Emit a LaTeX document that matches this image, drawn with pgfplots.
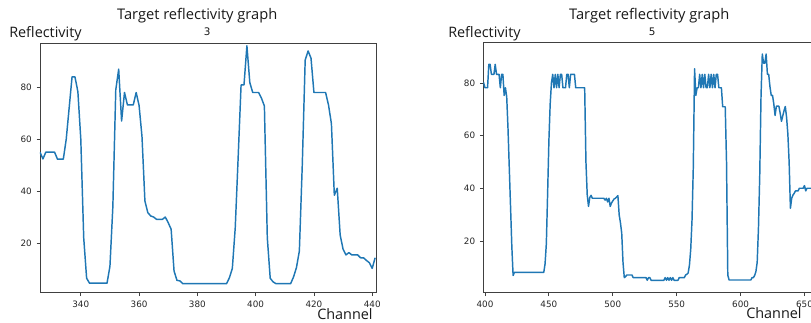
\documentclass[border=0pt]{standalone}
\usepackage{fontspec}
\usepackage{pgfplots}
\pgfplotsset{compat=1.18}
\setmainfont{Open Sans}
\newfontfamily\dejavu{DejaVu Sans}
\definecolor{mplblue}{HTML}{1F77B4}
\pgfplotsset{
  myax/.style={
    scale only axis,
    axis line style={black!75, line width=0.6pt},
    every tick/.style={black!75, line width=0.6pt},
    major tick length=2.6pt,
    tick align=outside,
    tick pos=left,
    tick label style={font=\fontsize{6.6}{7}\selectfont\dejavu, text=black!85},
    /pgf/number format/assume math mode=true,
    ytick={20,40,60,80},
  },
  myline/.style={color=mplblue, line width=1.1pt, no markers, line join=round},
}
\begin{document}
\begin{tikzpicture}
% left chart
\begin{axis}[myax,
  at={(30pt,22pt)}, anchor=south west,
  width=252pt, height=187.3pt,
  xmin=326, xmax=441.3, ymin=0.85, ymax=97.1,
  xtick={340,360,380,400,420,440},
]
\addplot[myline] coordinates {
(326,55)(327,52.4)(328,55)(329,55)(330,55)(331,55)(332,52.3)(333,52.3)(334,52.3)(335,60)(336,72)(337,84)(338,84)(339,78.3)(340,60)(341,22)(342,6.4)(343,4.5)(349,4.5)(350,11)(351,34)(352,79)(353,87)(354,67)(355,78)(356,73.2)(357,73.2)(358,73.2)(359,78)(360,73)(361,61)(362,36.2)(363,31.7)(364,30.4)(365,30)(366,29.1)(367,29.1)(368,29.1)(369,30)(370,27.8)(371,25.3)(372,9.2)(373,5.6)(374,5.4)(375,4.3)(390,4.3)(391,6.6)(392,10.2)(393,25.9)(394,53)(395,80.9)(396,80.9)(397,96)(398,81.8)(399,78)(400,78)(401,78)(402,75.8)(403,72.8)(404,22)(405,6.4)(406,5)(407,4.3)(412,4.3)(413,6.9)(414,10.5)(415,16.9)(416,50)(417,90.5)(418,94)(419,91.2)(420,78)(421,78)(422,78)(423,78)(424,78)(425,73.2)(426,66)(427,38.4)(428,41.1)(429,23.1)(430,17.6)(431,15.4)(432,16.3)(433,15.4)(434,15.4)(435,15.4)(436,14.3)(437,14.3)(438,13.3)(439,12.4)(440,10.2)(441,14.3)
};
\end{axis}
% right chart
\begin{axis}[myax,
  at={(362.5pt,22pt)}, anchor=south west,
  width=246.6pt, height=187.5pt,
  xmin=398.7, xmax=656, ymin=0.5, ymax=95.3,
  xtick={400,450,500,550,600,650},
]
\addplot[myline] coordinates {
(398.7,80.4)(400,78.2)(402,78.2)(403,87.1)(404,87.1)(405,83.3)(407,83.3)(408,87.1)(409,83.3)(411,83.3)(412,78.2)(413,83.3)(414,83.3)(415,75.3)(416,78.2)(417,74.7)(418,62.8)(419,47.9)(420,33)(421,18)(422,7)(423,8.2)(446,8.2)(447,11.4)(448,19)(449,38)(450,58)(451,72)(452,80)(453,83.3)(454,78.2)(455,83.3)(456,78.2)(457,83.3)(458,78.2)(459,83.3)(460,83.3)(461,78.2)(463,78.2)(464,83.3)(465,83.3)(466,78.2)(467,83.3)(470,83.3)(471,78.2)(478,78.2)(479,50)(480,37.6)(481,33.2)(482,36.6)(483,37.4)(484,36.3)(493,36.3)(494,35.6)(495,36.3)(496,34.9)(497,36.3)(498,33.2)(499,34.5)(500,35.3)(501,36)(502,36.3)(503,36.8)(504,37.3)(505,30)(506,27)(507,23)(508,12)(509,6.2)(510,6.6)(511,7.2)(515,7.2)(516,6.2)(526,6.2)(527,5.2)(528,6.2)(529,6.2)(530,5.2)(540,5.2)(541,6.2)(542,5.2)(543,6.2)(544,5.2)(545,6.2)(546,5.2)(547,6.2)(548,5.2)(551,5.2)(552,6.2)(556,6.2)(557,7.2)(558,7.5)(559,8)(560,11)(561,17)(562,28)(563,48)(564,85.4)(565,75.3)(566,78.2)(567,78.2)(568,83.3)(569,78.2)(570,83.3)(571,78.2)(572,83.3)(573,78.2)(574,78.2)(575,83.3)(576,78.2)(577,83.3)(578,78.2)(579,83.3)(580,78.2)(581,83.3)(582,83.3)(583,78.2)(585,78.2)(586,71)(588,71)(589,50)(590,7.2)(591,5.3)(608,5.3)(609,6.2)(610,6.2)(611,7)(612,8.5)(613,12)(614,25)(615,45)(616,75)(617,91)(618,87.5)(619,87.5)(620,91)(621,83.3)(622,83.3)(623,78.6)(624,75.3)(625,75.3)(626,72.1)(627,67.7)(628,71.2)(630,71.2)(631,68.5)(632,65.5)(633,67.5)(634,69.5)(635,71.1)(636,67)(637,60.7)(638,50)(639,32.5)(640,36.3)(641,37.5)(642,38.2)(643,39.1)(645,39.1)(646,40.1)(649,40.1)(650,41.1)(651,39.1)(652,40.1)(656,40.1)
};
\end{axis}
% titles and labels
\begin{scope}[every node/.style={inner sep=0pt, text=black!90}]
\node[anchor=base] at (147.9pt,226.5pt) {\fontsize{11}{13}\selectfont Target reflectivity graph};
\node[anchor=base] at (486.9pt,226.5pt) {\fontsize{11}{13}\selectfont Target reflectivity graph};
\node[anchor=base] at (155.3pt,214.5pt) {\fontsize{7.8}{9}\selectfont\dejavu 3};
\node[anchor=base] at (489.2pt,214.5pt) {\fontsize{7.8}{9}\selectfont\dejavu 5};
\node[anchor=base west] at (6.75pt,213.4pt) {\fontsize{10.8}{12}\selectfont Reflectivity};
\node[anchor=base west] at (336pt,213.4pt) {\fontsize{10.8}{12}\selectfont Reflectivity};
\node[anchor=base west] at (237.75pt,2pt) {\fontsize{10.8}{12}\selectfont Channel};
\node[anchor=base west] at (559.5pt,2.4pt) {\fontsize{10.8}{12}\selectfont Channel};
\end{scope}
\pgfresetboundingbox
\useasboundingbox (0,0) rectangle (608.25pt,241.5pt);
\end{tikzpicture}
\end{document}
